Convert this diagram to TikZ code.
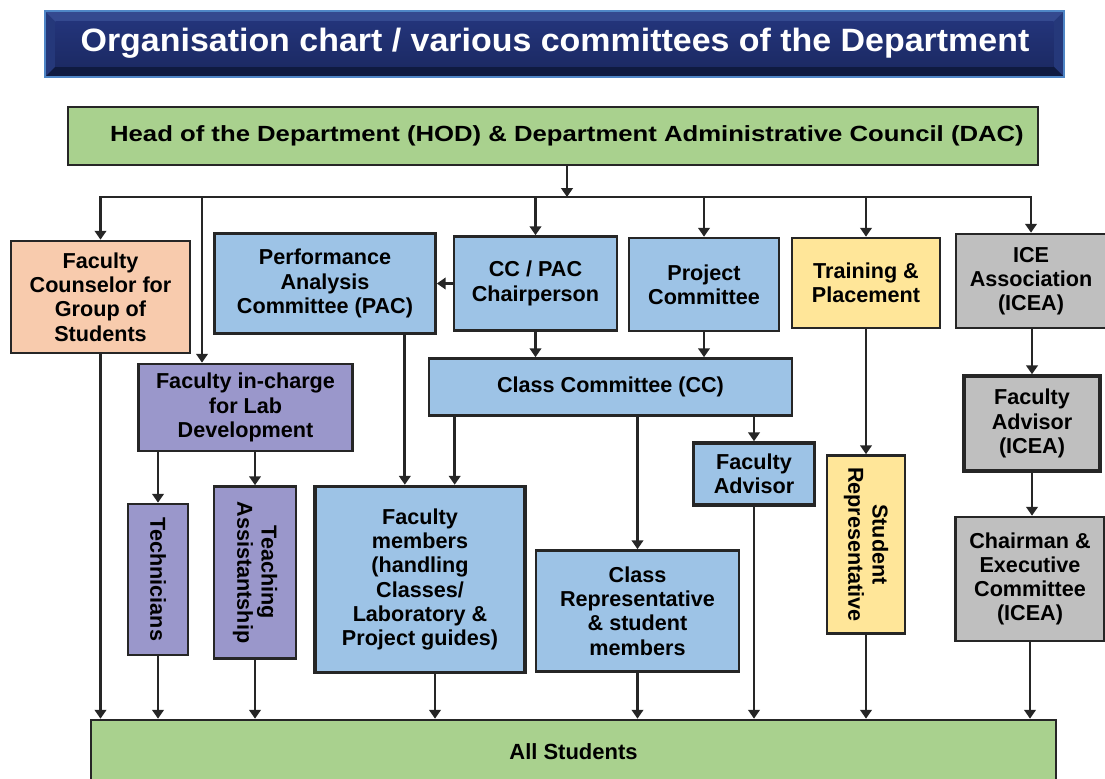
\documentclass[tikz,border=0pt]{standalone}
\usepackage{fontspec}
\setmainfont{Liberation Sans}
\newfontfamily\widesans[FakeStretch=1.17]{Liberation Sans}
\newfontfamily\titlesans[FakeStretch=1.05]{Liberation Sans}
\usetikzlibrary{arrows.meta,positioning}

\definecolor{linegray}{HTML}{262626}
\definecolor{hodgreen}{HTML}{A9D18E}
\definecolor{peach}{HTML}{F8CBAD}
\definecolor{lightblue}{HTML}{9DC3E6}
\definecolor{paleyellow}{HTML}{FFE699}
\definecolor{midgray}{HTML}{BFBFBF}
\definecolor{lilac}{HTML}{9A97CB}
\definecolor{bannerrim}{HTML}{4F86C6}
\definecolor{beveltop}{HTML}{34498F}
\definecolor{bevelside}{HTML}{25387A}
\definecolor{bevelbottom}{HTML}{0F1A40}
\definecolor{facetop}{HTML}{23347A}
\definecolor{facebottom}{HTML}{1C2A64}

\newcommand{\boxfont}{\fontsize{12.3}{13.8}\selectfont\bfseries}

\tikzset{
  wh/.style 2 args={minimum width=#1*0.02cm, minimum height=#2*0.02cm},
  box/.style={draw=linegray, line width=1.5pt, align=center, font=\boxfont,
    text=black, inner sep=1pt},
  conn/.style={draw=linegray, line width=1.6pt},
  arr/.style={conn, -{Triangle[length=5pt,width=6.5pt]}},
}

\begin{document}
\begin{tikzpicture}[x=0.02cm,y=-0.02cm]
\useasboundingbox (0,0) rectangle (1105,778);

% title banner
\node[wh={1019}{66}, inner sep=0pt, fill=bevelside] (banner) at (554.5,44) {};
\fill[beveltop] (banner.north west) -- (banner.north east) -- ([shift={(-0.22cm,-0.22cm)}]banner.north east)
  -- ([shift={(0.22cm,-0.22cm)}]banner.north west) -- cycle;
\fill[bevelbottom] (banner.south west) -- (banner.south east) -- ([shift={(-0.22cm,0.22cm)}]banner.south east)
  -- ([shift={(0.22cm,0.22cm)}]banner.south west) -- cycle;
\shade[top color=facetop, bottom color=facebottom]
  ([shift={(0.22cm,-0.22cm)}]banner.north west) rectangle ([shift={(-0.22cm,0.22cm)}]banner.south east);
\draw[bannerrim, line width=1pt] (banner.north west) rectangle (banner.south east);
\node[text=white, font=\titlesans\fontsize{18.4}{20}\selectfont\bfseries] (title) at (555,43)
  {Organisation chart / various committees of the Department};

% top level
\node[box, fill=hodgreen, wh={970}{58}, font=\widesans\fontsize{12.5}{15}\selectfont\bfseries] (hod) at (553,136)
  {\hspace*{0.56cm}Head of the Department (HOD) \& Department Administrative Council (DAC)};

\node[box, fill=peach, wh={179}{112}] (counsel) at (100.5,297) {Faculty\\Counselor for\\Group of\\Students};
\node[box, fill=lightblue, wh={221}{100}] (pac) at (325,283.5) {Performance\\Analysis\\Committee (PAC)};
\node[box, fill=lightblue, wh={163}{94}] (chair) at (535.5,283.5) {CC / PAC\\Chairperson};
\node[box, fill=lightblue, wh={150}{93}] (proj) at (704,284.5) {Project\\Committee};
\node[box, fill=paleyellow, wh={148}{90}] (train) at (866,283) {Training \&\\Placement};
\node[box, fill=midgray, wh={150}{94}] (ice) at (1031,281) {ICE\\Association\\(ICEA)};

% second level
\node[box, fill=lightblue, wh={363}{57}] (cc) at (610.5,387) {Class Committee (CC)};
\node[box, fill=lilac, wh={214}{87}] (fic) at (245.5,407.5) {Faculty in-charge\\for Lab\\Development};
\node[box, fill=midgray, wh={136}{95}, line width=2pt] (fadvi) at (1032,423.5) {Faculty\\Advisor\\(ICEA)};
\node[box, fill=lightblue, wh={121}{62}, line width=2pt] (fadv) at (754,474) {Faculty\\Advisor};

% third level
\node[box, fill=lilac, wh={151}{60}, rotate=-90] (tech) at (158,579.5) {Technicians};
\node[box, fill=lilac, wh={172}{82}, rotate=-90] (ta) at (255,572.5) {Teaching\\Assistantship};
\node[box, fill=lightblue, wh={210}{186}, line width=2pt] (fm) at (420,579.5)
  {Faculty\\members\\(handling\\Classes/\\Laboratory \&\\Project guides)};
\node[box, fill=lightblue, wh={203}{121}] (crep) at (637.5,611) {Class\\Representative\\\& student\\members};
\node[box, fill=paleyellow, wh={178}{78}, rotate=-90] (srep) at (866,544.5) {Student\\Representative};
\node[box, fill=midgray, wh={149}{124}] (chairm) at (1030,579) {Chairman \&\\Executive\\Committee\\(ICEA)};

% bottom
\node[box, fill=hodgreen, wh={965}{70}, font=\fontsize{12.5}{14}\selectfont\bfseries] (all) at (573.5,755)
  {\raisebox{0.14cm}{All Students}};

% bus from HOD
\coordinate (bus) at (567,197);
\coordinate (labdrop) at (202,197);
\draw[arr] ([xshift=0.28cm]hod.south) -- ([xshift=0.28cm]hod.south |- bus);
\draw[arr] (bus) -| (counsel.north);
\draw[arr] (bus) -| (ice.north);
\draw[arr] (labdrop) -- (labdrop |- fic.north);
\draw[arr] (chair.north |- bus) -- (chair.north);
\draw[arr] (proj.north |- bus) -- (proj.north);
\draw[arr] (train.north |- bus) -- (train.north);

% links between committees
\draw[arr] (chair.west) -- (chair.west -| pac.east);
\draw[arr] (chair.south) -- (chair.south |- cc.north);
\draw[arr] (proj.south) -- (proj.south |- cc.north);
\draw[arr] ([xshift=-0.64cm]pac.south east) -- ([xshift=-0.64cm]pac.south east |- fm.north);
\draw[arr] ([xshift=0.54cm]cc.south west) -- ([xshift=0.54cm]cc.south west |- fm.north);
\draw[arr] (crep.north |- cc.south) -- (crep.north);
\draw[arr] (fadv.north |- cc.south) -- (fadv.north);
\draw[arr] (tech.west |- fic.south) -- (tech.west);
\draw[arr] (ta.west |- fic.south) -- (ta.west);
\draw[arr] (train.south) -- (srep.west);
\draw[arr] (fadvi.north |- ice.south) -- (fadvi.north);
\draw[arr] (fadvi.south) -- (fadvi.south |- chairm.north);

% down to all students
\draw[arr] (counsel.south) -- (counsel.south |- all.north);
\draw[arr] (tech.east) -- (tech.east |- all.north);
\draw[arr] (ta.east) -- (ta.east |- all.north);
\draw[arr] ([xshift=0.3cm]fm.south) -- ([xshift=0.3cm]fm.south |- all.north);
\draw[arr] (crep.south) -- (crep.south |- all.north);
\draw[arr] (fadv.south) -- (fadv.south |- all.north);
\draw[arr] (srep.east) -- (srep.east |- all.north);
\draw[arr] (chairm.south) -- (chairm.south |- all.north);
\end{tikzpicture}
\end{document}
